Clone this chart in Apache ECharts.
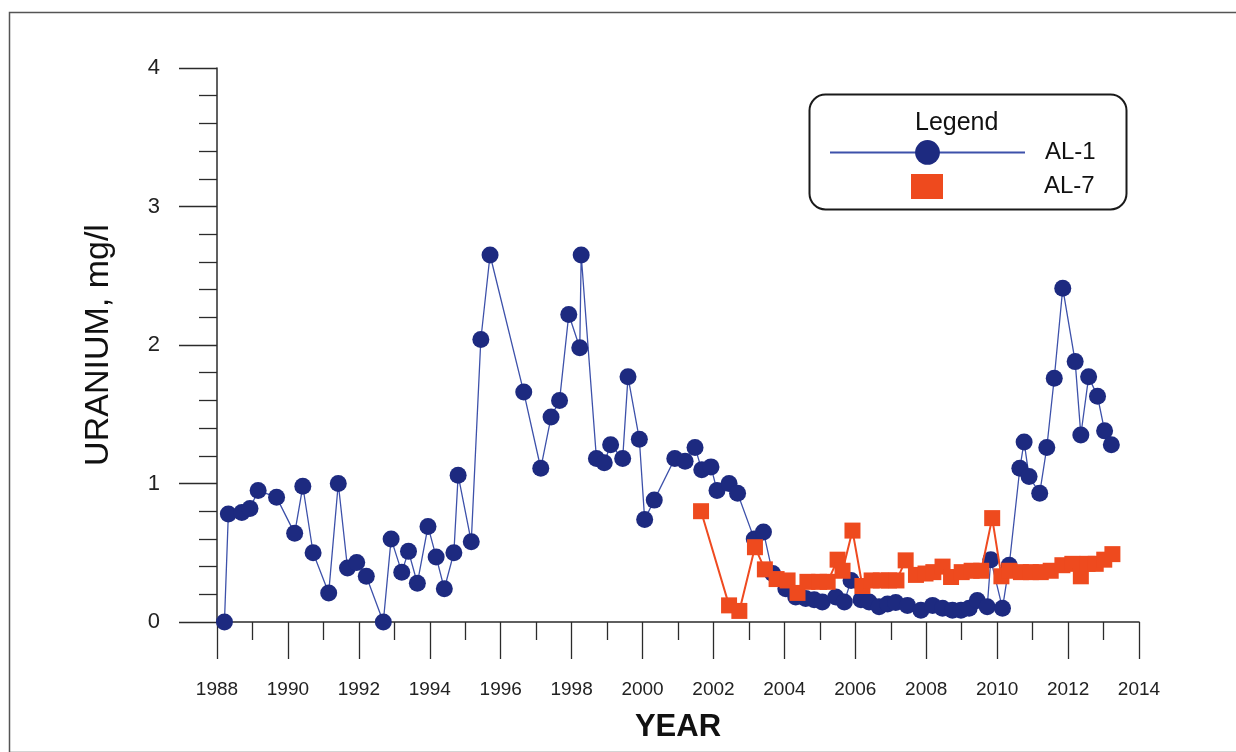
<!DOCTYPE html>
<html>
<head>
<meta charset="utf-8">
<script src="https://cdn.jsdelivr.net/npm/echarts@6/dist/echarts.min.js"></script>
<style>
html,body{margin:0;padding:0;background:#fff;}
#chart{width:1236px;height:752px;}
</style>
</head>
<body>
<div id="chart"></div>
<script>
// ---- data ----
const al1Years = [1988.21,1988.32,1988.70,1988.93,1989.16,1989.68,1990.19,1990.42,1990.71,1991.15,1991.42,1991.68,1991.94,1992.21,1992.69,1992.91,1993.21,1993.40,1993.65,1993.95,1994.18,1994.41,1994.68,1994.80,1995.17,1995.44,1995.70,1996.65,1997.13,1997.42,1997.66,1997.92,1998.23,1998.27,1998.70,1998.92,1999.10,1999.44,1999.59,1999.91,2000.06,2000.33,2000.91,2001.20,2001.48,2001.67,2001.93,2002.10,2002.44,2002.68,2003.15,2003.41,2003.67,2004.04,2004.32,2004.60,2004.84,2005.07,2005.45,2005.69,2005.88,2006.16,2006.39,2006.67,2006.91,2007.14,2007.47,2007.85,2008.18,2008.46,2008.74,2008.98,2009.21,2009.44,2009.72,2009.82,2010.15,2010.34,2010.64,2010.76,2010.90,2011.20,2011.40,2011.61,2011.85,2012.20,2012.36,2012.58,2012.83,2013.03,2013.22];
const al1Values = [0.00,0.78,0.79,0.82,0.95,0.90,0.64,0.98,0.50,0.21,1.00,0.39,0.43,0.33,0.00,0.60,0.36,0.51,0.28,0.69,0.47,0.24,0.50,1.06,0.58,2.04,2.65,1.66,1.11,1.48,1.60,2.22,1.98,2.65,1.18,1.15,1.28,1.18,1.77,1.32,0.74,0.88,1.18,1.16,1.26,1.10,1.12,0.95,1.00,0.93,0.60,0.65,0.35,0.24,0.18,0.17,0.16,0.145,0.18,0.145,0.30,0.16,0.145,0.11,0.13,0.14,0.12,0.085,0.12,0.10,0.085,0.085,0.10,0.155,0.11,0.45,0.10,0.41,1.11,1.30,1.05,0.93,1.26,1.76,2.41,1.88,1.35,1.77,1.63,1.38,1.28];
const al7Years = [2001.65,2002.44,2002.73,2003.17,2003.45,2003.78,2004.09,2004.37,2004.65,2004.98,2005.22,2005.50,2005.64,2005.92,2006.20,2006.46,2006.72,2006.95,2007.16,2007.42,2007.71,2007.98,2008.20,2008.46,2008.70,2009.00,2009.28,2009.55,2009.86,2010.12,2010.34,2010.67,2010.95,2011.23,2011.51,2011.84,2012.12,2012.36,2012.55,2012.78,2013.02,2013.25];
const al7Values = [0.80,0.12,0.08,0.54,0.38,0.31,0.30,0.21,0.29,0.29,0.29,0.45,0.37,0.66,0.26,0.30,0.30,0.30,0.30,0.445,0.34,0.35,0.36,0.40,0.325,0.36,0.37,0.37,0.75,0.33,0.37,0.36,0.36,0.36,0.37,0.41,0.42,0.33,0.42,0.42,0.45,0.49];
const seriesNames = ['AL-1','AL-7'];
const xMin = 1988, xMax = 2014, xStep = 2;
const yMin = 0, yMax = 4, yStep = 1;
const xTitle = 'YEAR';
const yTitle = 'URANIUM, mg/l';
const legendTitle = 'Legend';

const zip = (xs, ys) => xs.map((x, i) => [x, ys[i]]);

const chart = echarts.init(document.getElementById('chart'), null, {renderer: 'canvas'});
const axisColor = '#2b2b2b';
const font = 'Liberation Sans, Arial, sans-serif';

chart.setOption({
  animation: false,
  backgroundColor: '#ffffff',
  grid: {left: 217, right: 97, top: 68, bottom: 130, containLabel: false},
  xAxis: {
    type: 'value', min: xMin, max: xMax, interval: xStep,
    name: xTitle, nameLocation: 'middle', nameGap: 90,
    nameTextStyle: {fontFamily: font, fontSize: 31, fontWeight: 'bold', color: '#111'},
    axisLine: {show: true, lineStyle: {color: axisColor, width: 1.5}},
    axisTick: {show: true, length: 37, lineStyle: {color: axisColor, width: 1.3}},
    minorTick: {show: true, splitNumber: 2, length: 18, lineStyle: {color: axisColor, width: 1.3}},
    axisLabel: {margin: 58, fontFamily: font, fontSize: 19, color: '#222', formatter: v => String(v)},
    splitLine: {show: false}, minorSplitLine: {show: false}
  },
  yAxis: {
    type: 'value', min: yMin, max: yMax, interval: yStep,
    name: yTitle, nameLocation: 'middle', nameGap: 101, nameRotate: 90,
    nameTextStyle: {fontFamily: font, fontSize: 34, color: '#111'},
    axisLine: {show: true, lineStyle: {color: axisColor, width: 1.5}},
    axisTick: {show: true, length: 38, lineStyle: {color: axisColor, width: 1.3}},
    minorTick: {show: true, splitNumber: 5, length: 18, lineStyle: {color: axisColor, width: 1.3}},
    axisLabel: {margin: 57, fontFamily: font, fontSize: 22, color: '#222'},
    splitLine: {show: false}, minorSplitLine: {show: false}
  },
  legend: [
    {
      data: [seriesNames[0]], orient: 'vertical', left: 829, top: 140, padding: 0,
      itemWidth: 195, itemHeight: 31,
      textStyle: {fontFamily: font, fontSize: 24, color: '#111', padding: [0, 0, 0, 15]}
    },
    {
      data: [{name: seriesNames[1], icon: 'rect'}], orient: 'vertical', left: 911, top: 174, padding: 0,
      itemWidth: 32, itemHeight: 25,
      textStyle: {fontFamily: font, fontSize: 24, color: '#111', padding: [0, 0, 0, 96]}
    }
  ],
  graphic: [
    {type: 'rect', left: 7, top: 10, shape: {width: 1240, height: 740}, style: {fill: 'none', stroke: '#555', lineWidth: 1.5}, silent: true, z: -1},
    {type: 'rect', left: 807, top: 92, shape: {width: 317, height: 115, r: 16}, style: {fill: 'none', stroke: '#1a1a1a', lineWidth: 2}, silent: true},
    {type: 'text', left: 915, top: 111, style: {text: legendTitle, font: '25px Liberation Sans, Arial, sans-serif', fill: '#111'}, silent: true}
  ],
  series: [
    {
      name: seriesNames[0], type: 'line', data: zip(al1Years, al1Values),
      symbol: 'circle', symbolSize: 17, showAllSymbol: true,
      itemStyle: {color: '#1d2a80'},
      lineStyle: {color: '#3d51aa', width: 1.3}, z: 2
    },
    {
      name: seriesNames[1], type: 'line', data: zip(al7Years, al7Values),
      symbol: 'rect', symbolSize: 16, showAllSymbol: true,
      itemStyle: {color: '#ee4a1e'},
      lineStyle: {color: '#ef4a20', width: 2}, z: 3
    }
  ]
});
</script>
</body>
</html>
